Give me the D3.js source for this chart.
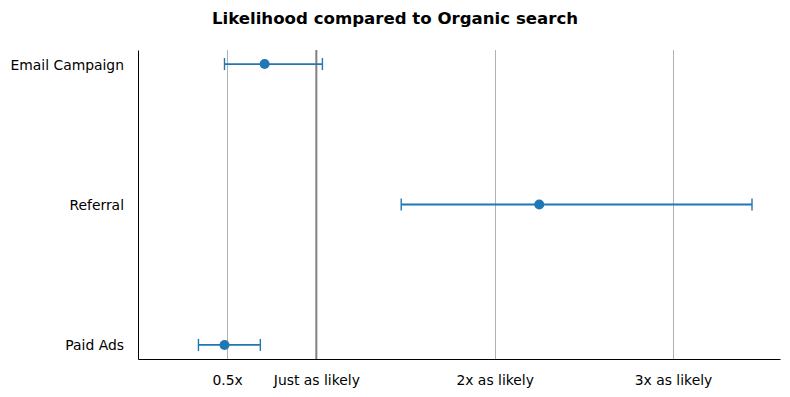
<!DOCTYPE html>
<html><head><meta charset="utf-8">
<script src="https://cdn.jsdelivr.net/npm/d3@7"></script>
<style>body{margin:0;background:#fff}svg{display:block;font-family:"DejaVu Sans",sans-serif}</style>
</head><body><svg id="c" width="790" height="397"></svg>
<script>
const categories = ["Email Campaign", "Referral", "Paid Ads"];
const estimates = [0.71, 2.25, 0.485];
const lowerCI = [0.485, 1.476, 0.339];
const upperCI = [1.034, 3.443, 0.686];
const tickValues = [0.5, 1, 2, 3];
const tickLabels = ["0.5x", "Just as likely", "2x as likely", "3x as likely"];
const title = "Likelihood compared to Organic search";

const W = 790, H = 397;
const m = {left: 138, right: 10, top: 50, bottom: 38};
const svg = d3.select("#c");
const x = d3.scaleLinear().domain([0, 3.6]).range([m.left, W - m.right]);
const y = d3.scaleLinear().domain([-0.1, 2.1]).range([m.top, H - m.bottom]);
const color = "#1f77b4";

// grid
svg.append("g").selectAll("line").data(tickValues).join("line")
  .attr("x1", d => Math.round(x(d)) + 0.5).attr("x2", d => Math.round(x(d)) + 0.5)
  .attr("y1", m.top).attr("y2", H - m.bottom)
  .attr("stroke", "#b0b0b0").attr("stroke-width", 1);
// reference line at 1
svg.append("line").attr("x1", x(1)).attr("x2", x(1))
  .attr("y1", m.top).attr("y2", H - m.bottom)
  .attr("stroke", "#808080").attr("stroke-width", 2);

// axes
const xAxis = d3.axisBottom(x).tickValues(tickValues)
  .tickFormat((d, i) => tickLabels[i]).tickSize(0).tickPadding(16);
const gx = svg.append("g").attr("transform", `translate(0,${H - m.bottom})`).call(xAxis);
gx.select(".domain").attr("stroke", "#000").attr("stroke-width", 1);
gx.selectAll("text").attr("font-size", 13.9).attr("fill", "#000").attr("font-family", "DejaVu Sans");

const yAxis = d3.axisLeft(y).tickValues(categories.map((c, i) => i))
  .tickFormat(i => categories[i]).tickSize(0).tickPadding(14);
const gy = svg.append("g").attr("transform", `translate(${m.left},0)`).call(yAxis);
gy.select(".domain").attr("stroke", "#000").attr("stroke-width", 1);
gy.selectAll("text").attr("font-size", 13.9).attr("fill", "#000").attr("font-family", "DejaVu Sans")
  .attr("dy", "0.36em");

// error bars
const g = svg.append("g");
categories.forEach((c, i) => {
  g.append("line").attr("x1", x(lowerCI[i])).attr("x2", x(upperCI[i]))
    .attr("y1", y(i)).attr("y2", y(i)).attr("stroke", color).attr("stroke-width", 1.8);
  [lowerCI[i], upperCI[i]].forEach(v => {
    g.append("line").attr("x1", x(v)).attr("x2", x(v))
      .attr("y1", y(i) - 6).attr("y2", y(i) + 6).attr("stroke", color).attr("stroke-width", 1.4);
  });
  g.append("circle").attr("cx", x(estimates[i])).attr("cy", y(i)).attr("r", 5).attr("fill", color);
});

svg.append("text").attr("x", 395).attr("y", 24).attr("text-anchor", "middle")
  .attr("font-size", 16.6).attr("font-weight", "bold").attr("font-family", "DejaVu Sans")
  .attr("fill", "#000").text(title);
</script></body></html>
